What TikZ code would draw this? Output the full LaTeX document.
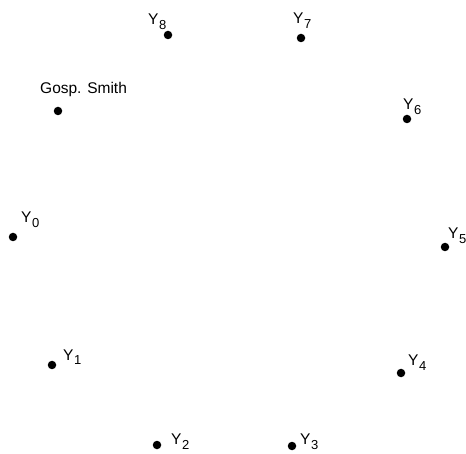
\documentclass[tikz,border=0pt]{standalone}
\usepackage{fontspec}
\setmainfont{Liberation Sans}
\newcommand{\ysub}[1]{Y\kern0.5pt\raisebox{-5pt}{\fontsize{13}{14}\selectfont #1}}
\begin{document}
\begin{tikzpicture}[
  x=1pt, y=-1pt,
  font=\fontsize{15.5}{18}\selectfont,
  dot/.style={circle, fill=black, inner sep=0pt, minimum size=8.5pt},
  lbl/.style={anchor=base west, inner sep=0pt}
]
\useasboundingbox (0,0) rectangle (466,454);

% points
\node[dot] (y0) at (13,237)  {};
\node[dot] (y1) at (52,365)  {};
\node[dot] (y2) at (157,445) {};
\node[dot] (y3) at (292,446) {};
\node[dot] (y4) at (401,373) {};
\node[dot] (y5) at (445,247) {};
\node[dot] (y6) at (407,119) {};
\node[dot] (y7) at (301,38)  {};
\node[dot] (y8) at (168,35)  {};
\node[dot] (gs) at (58,111)  {};

% labels
\node[lbl] (l0) at (21,223)  {\ysub{0}};
\node[lbl] (l1) at (63,360)  {\ysub{1}};
\node[lbl] (l2) at (171,444) {\ysub{2}};
\node[lbl] (l3) at (300,444) {\ysub{3}};
\node[lbl] (l4) at (408,366) {\ysub{4}};
\node[lbl] (l5) at (448,239) {\ysub{5}};
\node[lbl] (l6) at (403,110) {\ysub{6}};
\node[lbl] (l7) at (293,24)  {\ysub{7}};
\node[lbl] (l8) at (148,25)  {\ysub{8}};
\node[lbl] (lg) at (40,94)   {Gosp. Smith};
\end{tikzpicture}
\end{document}
